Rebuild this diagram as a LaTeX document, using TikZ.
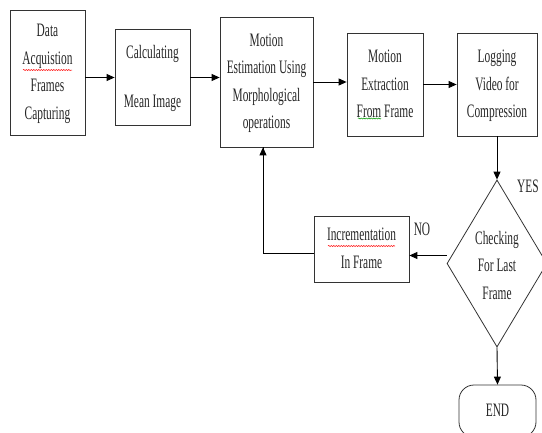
\documentclass[tikz,border=0pt]{standalone}
\usepackage{fontspec}
\usepackage{graphicx}
\setmainfont{Liberation Serif}
\usetikzlibrary{shapes.geometric,arrows.meta,decorations.pathmorphing}
\newcommand\tx[1]{\scalebox{0.6}[1]{\fontsize{19}{27.5}\selectfont\color{black!85}\begin{tabular}{@{}c@{}}#1\end{tabular}}}
\begin{document}
\begin{tikzpicture}[x=1pt,y=-1pt,
  box/.style={draw=black!80, line width=0.8pt, rectangle, inner sep=0pt},
  arr/.style={draw=black, line width=0.9pt, -{Triangle[length=8pt,width=7pt]}},
  ln/.style={draw=black, line width=0.9pt},
  squig/.style={line width=0.5pt, decorate, decoration={snake, amplitude=0.6pt, segment length=2.5pt}}
]
\useasboundingbox (0,0) rectangle (542,432);
\node[box, minimum width=75pt, minimum height=125pt] (b1) at (47.5,72.5) {\tx{Data\\Acquistion\\Frames\\Capturing}};
\node[box, minimum width=75pt, minimum height=96pt] (b2) at (152.5,77.5) {\tx{Calculating\\[22pt]Mean Image}};
\node[box, minimum width=93pt, minimum height=130pt] (b3) at (266.5,82) {\tx{Motion\\Estimation Using\\Morphological\\operations}};
\node[box, minimum width=76pt, minimum height=103pt] (b4) at (385,84.5) {\tx{Motion\\Extraction\\From Frame}};
\node[box, minimum width=80pt, minimum height=103pt] (b5) at (497,84.5) {\tx{Logging\\Video for\\Compression}};
\node[draw=black!80, line width=0.8pt, shape=diamond, minimum width=100pt, minimum height=167pt, inner sep=0pt] (chk) at (497,263.5) {};
\node[inner sep=0pt] (chkt) at (497,266) {\tx{Checking\\For Last\\Frame}};
\node[box, minimum width=95pt, minimum height=66pt] (inc) at (361.5,249) {\tx{Incrementation\\In Frame}};
\node[draw=black!80, line width=0.8pt, rectangle, rounded corners=15pt, minimum width=77pt, minimum height=52pt] (endn) at (497.5,411) {\tx{END}};
\node[inner sep=0pt] (yes) at (528,187) {\tx{YES}};
\node[inner sep=0pt] (no) at (422,230) {\tx{NO}};
% connectors
\draw[arr] (b1.east |- b2.west) -- (b2.west);
\draw[arr] (b2.east) -- (b3.west |- b2.east);
\draw[arr] (b3.east) -- (b4.west |- b3.east);
\draw[arr] (b4.east) -- (b5.west);
\draw[arr] (b5.south) -- (chk.north);
\draw[arr] ([yshift=8pt]chk.west) -- ([yshift=8pt]chk.west -| inc.east);
\draw[ln] ([yshift=-4pt]inc.west) -| ([xshift=-3.5pt]b3.south);
\draw[arr] ([xshift=-3.5pt,yshift=-30pt]b3.south) -- ([xshift=-3.5pt]b3.south);
\draw[arr] (chk.south) -- (endn.north);
% spell-check underlines
\draw[red, squig] (23,70) -- (72,70);
\draw[red, squig] (328,246) -- (395,246);
\draw[green!60!black, squig] (358,118.5) -- (381,118.5);
\end{tikzpicture}
\end{document}
